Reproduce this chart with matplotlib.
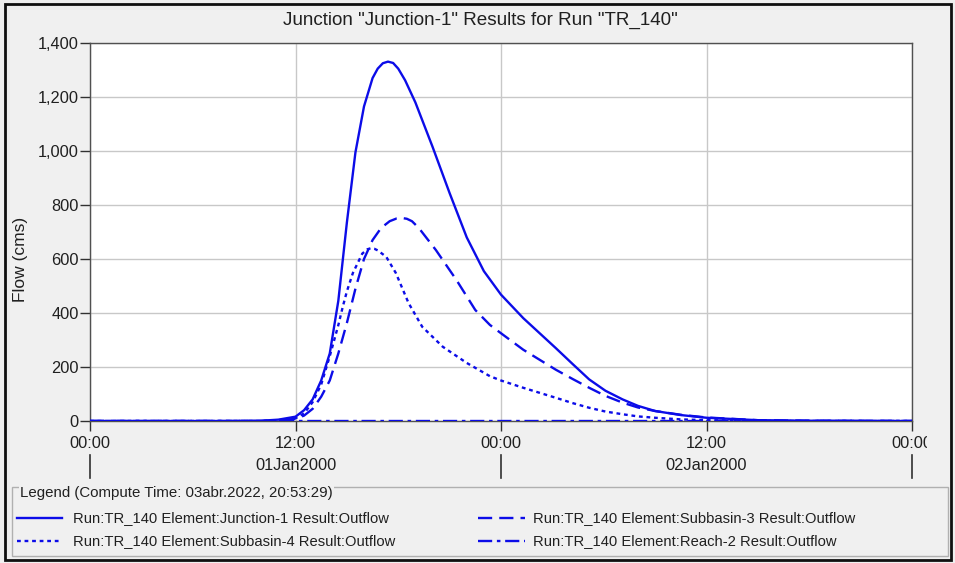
import matplotlib
matplotlib.use("Agg")
import matplotlib.pyplot as plt
from matplotlib.lines import Line2D
from matplotlib.patches import Rectangle
from matplotlib.transforms import Bbox

plt.rcParams['font.family'] = ['Liberation Sans', 'DejaVu Sans']

# ---- data (hours from 01Jan2000 00:00) ----
t_junction = [0, 8, 10, 11, 12, 12.5, 13, 13.5, 14, 14.5, 15, 15.5, 16, 16.5, 16.8, 17.1, 17.4,
              17.7, 18.0, 18.4, 19, 20, 21, 22, 23, 24, 25.3, 27.2, 28.2, 29.15, 30.1, 31.1, 32, 33,
              34.5, 36, 39, 42, 48]
q_junction = [0, 0, 1, 5, 16, 40, 80, 150, 250, 445, 735, 995, 1165, 1270, 1305, 1325, 1331,
              1326, 1305, 1262, 1180, 1016, 844, 680, 555, 468, 381, 270, 210, 154, 112, 80, 56, 37,
              22, 12, 3, 1, 0]

t_sub3 = [0, 10, 11, 12, 12.5, 13, 13.5, 14, 14.5, 15, 15.5, 16, 16.5, 17, 17.5, 17.9, 18.2,
          18.5, 18.8, 19.2, 20.2, 21.4, 22.5, 23.35, 24, 25.3, 27.2, 28.2, 29.15, 30.1, 31.1, 32, 33,
          34.5, 36, 39, 42, 48]
q_sub3 = [0, 0, 2, 8, 20, 45, 90, 150, 250, 363, 490, 600, 670, 715, 740, 750, 752,
          749, 740, 715, 633, 522, 411, 356, 325, 264, 190, 155, 123, 93, 68, 50, 37,
          23, 13, 3, 1, 0]

t_sub4 = [0, 10, 11, 12, 12.5, 13, 13.5, 14, 14.5, 14.76, 15, 15.35, 15.9, 16.2, 16.4, 16.6, 16.8, 17.3,
          17.86, 18.6, 19.4, 20.6, 22, 23.35, 24, 25.3, 27.2, 28.2, 29.15, 30.1, 31.1, 32, 33, 34.5, 36, 40, 48]
q_sub4 = [0, 0, 3, 10, 28, 70, 135, 240, 355, 423, 480, 548, 620, 636, 640, 638, 632, 608,
          548, 437, 349, 275, 215, 166, 150, 123, 86, 66, 49, 35, 25, 17, 12, 6, 3, 0, 0]

t_reach2 = [0, 12, 24, 36, 48]
q_reach2 = [0, 0, 0, 0, 0]

title = 'Junction "Junction-1" Results for Run "TR_140"'
ylabel = 'Flow (cms)'
yticks = [0, 200, 400, 600, 800, 1000, 1200, 1400]
xtick_hours = [0, 12, 24, 36, 48]
xtick_labels = ['00:00', '12:00', '00:00', '12:00', '00:00']
day_labels = ['01Jan2000', '02Jan2000']
day_centers = [12, 36]
day_bounds = [0, 24, 48]
legend_title = 'Legend (Compute Time: 03abr.2022, 20:53:29)'
series_names = ['Run:TR_140 Element:Junction-1 Result:Outflow',
                'Run:TR_140 Element:Subbasin-3 Result:Outflow',
                'Run:TR_140 Element:Subbasin-4 Result:Outflow',
                'Run:TR_140 Element:Reach-2 Result:Outflow']

W, H = 955, 563
fig = plt.figure(figsize=(W / 100, H / 100), dpi=100)
fig.patch.set_facecolor('#f0f0f0')

def fx(px):
    return px / W

def fy(py):
    return 1 - py / H

ax_l, ax_r, ax_t, ax_b = 90, 912, 43, 421
ax = fig.add_axes([fx(ax_l), fy(ax_b), fx(ax_r - ax_l), (ax_b - ax_t) / H])
ax.set_facecolor('white')

blue = '#0c0ce8'
lw = 1.7
styles = {
    'solid': dict(linestyle='-'),
    'dash': dict(linestyle=(0, (6, 3))),
    'dot': dict(linestyle=(0, (1.6, 1.6))),
    'dashdot': dict(linestyle=(0, (6, 2, 1.5, 2))),
}
ax.plot(t_reach2, q_reach2, color=blue, lw=lw, **styles['dashdot'], zorder=3)
ax.plot(t_sub4, q_sub4, color=blue, lw=lw, **styles['dot'], zorder=4)
ax.plot(t_sub3, q_sub3, color=blue, lw=lw, **styles['dash'], zorder=5)
ax.plot(t_junction, q_junction, color=blue, lw=lw, **styles['solid'], zorder=6)

ax.set_xlim(0, 48)
ax.set_ylim(0, 1400)
ax.set_yticks(yticks)
ax.set_yticklabels([f'{v:,}' for v in yticks])
ax.set_xticks(xtick_hours)
ax.set_xticklabels([])
ax.grid(True, color='#c8c8c8', lw=1.0)
ax.set_axisbelow(True)
for s in ax.spines.values():
    s.set_color('#505050')
    s.set_linewidth(1.0)
ax.tick_params(axis='y', direction='out', length=7, width=1, color='#303030',
               labelsize=11.8, labelcolor='#202020', pad=1)
ax.tick_params(axis='x', direction='out', length=7, width=1, color='#303030')

# x labels (time row)
clip = Bbox.from_extents(0, 0, 927, H)
for h, lab in zip(xtick_hours, xtick_labels):
    x = ax_l + (ax_r - ax_l) * h / 48
    t = fig.text(fx(x), fy(443), lab, ha='center', va='center', fontsize=11.8, color='#202020')
    t.set_clip_on(True)
    t.set_clip_box(clip)
# day row
for h, lab in zip(day_centers, day_labels):
    x = ax_l + (ax_r - ax_l) * h / 48
    fig.text(fx(x), fy(466), lab, ha='center', va='center', fontsize=11.8, color='#202020')
for h in day_bounds:
    x = ax_l + (ax_r - ax_l) * h / 48
    fig.add_artist(Line2D([fx(x), fx(x)], [fy(455), fy(478)], color='#303030', lw=1.2))

fig.text(fx(480.5), fy(20), title, ha='center', va='center', fontsize=13.6, color='#202020')
fig.text(fx(21), fy(259), ylabel, ha='center', va='center', rotation=90, fontsize=12.5, color='#202020')

# legend frame
fig.add_artist(Rectangle((fx(12), fy(556)), fx(948 - 12), (556 - 487) / H, transform=fig.transFigure,
                         facecolor='none', edgecolor='#b0b0b0', lw=1.0))
fig.text(fx(20), fy(493), legend_title, ha='left', va='center', fontsize=10.8, color='#202020',
         bbox=dict(facecolor='#f0f0f0', edgecolor='none', pad=1))
entries = [(17, 62, 73, 518, 'solid', series_names[0]),
           (478, 525, 533, 518, 'dash', series_names[1]),
           (17, 62, 73, 541, 'dot', series_names[2]),
           (478, 525, 533, 541, 'dashdot', series_names[3])]
for x0, x1, tx, y, st, name in entries:
    fig.add_artist(Line2D([fx(x0), fx(x1)], [fy(y), fy(y)], color=blue, lw=lw, **styles[st]))
    fig.text(fx(tx), fy(y), name, ha='left', va='center', fontsize=10.6, color='#202020')

# outer border
fig.add_artist(Rectangle((fx(5), fy(560)), fx(951 - 5), (560 - 4) / H, transform=fig.transFigure,
                         facecolor='none', edgecolor='#101010', lw=2))

fig.savefig('out.png', dpi=100, facecolor=fig.get_facecolor())
